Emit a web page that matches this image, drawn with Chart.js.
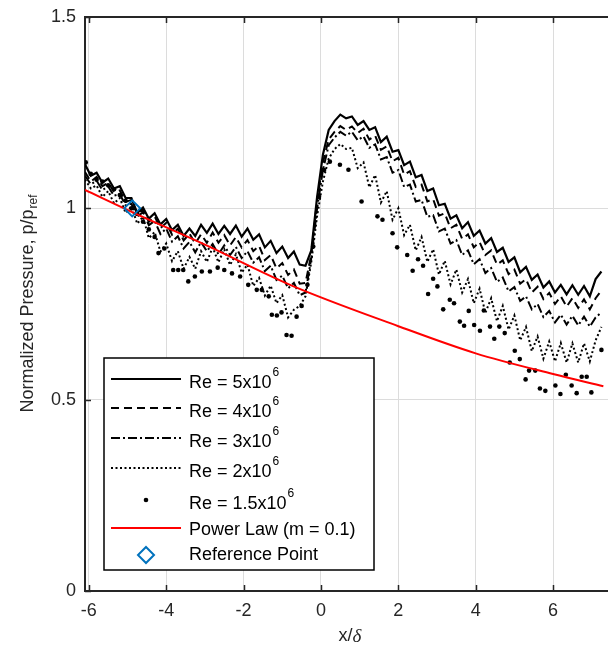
<!DOCTYPE html>
<html>
<head>
<meta charset="utf-8">
<script src="https://cdn.jsdelivr.net/npm/chart.js@4.4.1/dist/chart.umd.min.js"></script>
<style>
  html, body { margin: 0; padding: 0; background: #fff; overflow: hidden; }
  #wrap { width: 608px; height: 647px; position: relative; }
</style>
</head>
<body>
<div id="wrap"><canvas id="pressureChart"></canvas></div>
<script>
// x/delta stations shared by the four line series
const xPos = [
  -6.1, -5.95, -5.8, -5.65, -5.5, -5.35, -5.2, -5.05, -4.9, -4.75,
  -4.6, -4.45, -4.3, -4.15, -4.0, -3.85, -3.7, -3.55, -3.4, -3.25,
  -3.1, -2.95, -2.8, -2.65, -2.5, -2.35, -2.2, -2.05, -1.9, -1.75,
  -1.6, -1.45, -1.3, -1.15, -1.0, -0.85, -0.7, -0.55, -0.4, -0.25,
  -0.1, 0.05, 0.2, 0.35, 0.5, 0.65, 0.8, 0.95, 1.1, 1.25,
  1.4, 1.55, 1.7, 1.85, 2.0, 2.15, 2.3, 2.45, 2.6, 2.75,
  2.9, 3.05, 3.2, 3.35, 3.5, 3.65, 3.8, 3.95, 4.1, 4.25,
  4.4, 4.55, 4.7, 4.85, 5.0, 5.15, 5.3, 5.45, 5.6, 5.75,
  5.9, 6.05, 6.2, 6.35, 6.5, 6.65, 6.8, 6.95, 7.1, 7.25
];

const re5 = [
  1.115, 1.085, 1.093, 1.067, 1.078, 1.052, 1.058, 1.027, 1.027, 0.988,
  1.002, 0.973, 0.987, 0.958, 0.972, 0.943, 0.957, 0.928, 0.947, 0.928,
  0.957, 0.936, 0.960, 0.933, 0.954, 0.933, 0.955, 0.926, 0.947, 0.918,
  0.932, 0.898, 0.915, 0.883, 0.900, 0.870, 0.887, 0.853, 0.850, 0.890,
  1.030, 1.140, 1.205, 1.228, 1.245, 1.235, 1.240, 1.218, 1.228, 1.205,
  1.212, 1.173, 1.187, 1.148, 1.152, 1.113, 1.122, 1.081, 1.087, 1.045,
  1.052, 1.008, 1.012, 0.973, 0.982, 0.948, 0.964, 0.928, 0.942, 0.908,
  0.922, 0.886, 0.897, 0.860, 0.872, 0.833, 0.847, 0.813, 0.827, 0.793,
  0.809, 0.780, 0.800, 0.775, 0.799, 0.774, 0.797, 0.770, 0.815, 0.835
];

const re4 = [
  1.095, 1.070, 1.082, 1.058, 1.067, 1.043, 1.047, 1.017, 1.022, 0.985,
  0.997, 0.965, 0.979, 0.948, 0.962, 0.931, 0.947, 0.916, 0.934, 0.908,
  0.932, 0.910, 0.937, 0.910, 0.930, 0.903, 0.925, 0.898, 0.917, 0.888,
  0.902, 0.865, 0.878, 0.843, 0.857, 0.826, 0.840, 0.803, 0.805, 0.880,
  1.020, 1.120, 1.180, 1.200, 1.215, 1.205, 1.214, 1.197, 1.208, 1.180,
  1.190, 1.153, 1.162, 1.123, 1.132, 1.088, 1.097, 1.056, 1.062, 1.018,
  1.024, 0.981, 0.987, 0.948, 0.957, 0.920, 0.932, 0.898, 0.912, 0.878,
  0.890, 0.853, 0.864, 0.828, 0.840, 0.803, 0.815, 0.780, 0.795, 0.763,
  0.779, 0.750, 0.770, 0.743, 0.765, 0.740, 0.762, 0.736, 0.765, 0.785
];

const re3 = [
  1.085, 1.063, 1.072, 1.048, 1.057, 1.033, 1.037, 1.008, 1.012, 0.978,
  0.990, 0.956, 0.967, 0.933, 0.947, 0.913, 0.927, 0.895, 0.912, 0.885,
  0.912, 0.888, 0.907, 0.880, 0.903, 0.878, 0.899, 0.870, 0.888, 0.858,
  0.872, 0.836, 0.850, 0.813, 0.824, 0.791, 0.805, 0.773, 0.780, 0.870,
  1.000, 1.100, 1.165, 1.185, 1.200, 1.190, 1.200, 1.178, 1.188, 1.158,
  1.167, 1.128, 1.134, 1.093, 1.100, 1.056, 1.062, 1.018, 1.022, 0.978,
  0.982, 0.940, 0.947, 0.908, 0.917, 0.878, 0.890, 0.854, 0.867, 0.831,
  0.844, 0.808, 0.819, 0.783, 0.794, 0.758, 0.770, 0.736, 0.750, 0.716,
  0.732, 0.702, 0.722, 0.696, 0.719, 0.694, 0.717, 0.691, 0.715, 0.728
];

const re2 = [
  1.075, 1.052, 1.060, 1.030, 1.045, 1.013, 1.027, 0.988, 1.005, 0.960,
  0.978, 0.922, 0.938, 0.887, 0.908, 0.862, 0.888, 0.842, 0.873, 0.842,
  0.888, 0.860, 0.898, 0.859, 0.893, 0.852, 0.880, 0.832, 0.853, 0.797,
  0.818, 0.772, 0.798, 0.752, 0.773, 0.715, 0.735, 0.745, 0.770, 0.860,
  0.980, 1.070, 1.130, 1.155, 1.168, 1.155, 1.158, 1.105, 1.120, 1.055,
  1.087, 1.015, 1.045, 0.970, 1.000, 0.930, 0.957, 0.890, 0.925, 0.860,
  0.893, 0.827, 0.863, 0.801, 0.840, 0.780, 0.815, 0.752, 0.790, 0.727,
  0.765, 0.705, 0.745, 0.683, 0.720, 0.655, 0.690, 0.627, 0.665, 0.607,
  0.652, 0.600, 0.648, 0.597, 0.647, 0.597, 0.647, 0.600, 0.655, 0.690
];

// Re = 1.5x10^6 is sampled more sparsely
const re15X = [
  -6.08, -5.95, -5.8, -5.65, -5.5, -5.35, -5.2, -5.05, -4.9, -4.75,
  -4.6, -4.45, -4.3, -4.2, -4.05, -3.82, -3.69, -3.56, -3.43, -3.26,
  -3.08, -2.87, -2.67, -2.5, -2.3, -2.09, -1.88, -1.66, -1.53, -1.35,
  -1.27, -1.14, -1.02, -0.89, -0.76, -0.63, -0.5, -0.35, -0.2, -0.05,
  0.08, 0.23, 0.49, 0.71, 1.05, 1.46, 1.59, 1.85, 1.97, 2.23,
  2.37, 2.51, 2.64, 2.77, 2.90, 3.01, 3.16, 3.33, 3.44, 3.59,
  3.70, 3.82, 3.96, 4.11, 4.21, 4.37, 4.48, 4.61, 4.75, 4.88,
  5.01, 5.14, 5.29, 5.38, 5.54, 5.66, 5.80, 6.06, 6.19, 6.33,
  6.48, 6.61, 6.74, 6.87, 6.99, 7.25
];
const re15Y = [
  1.120, 1.090, 1.075, 1.070, 1.060, 1.050, 1.035, 1.020, 1.000, 0.985,
  0.965, 0.945, 0.925, 0.883, 0.895, 0.839, 0.839, 0.839, 0.809, 0.822,
  0.835, 0.835, 0.845, 0.839, 0.830, 0.822, 0.800, 0.787, 0.787, 0.770,
  0.722, 0.720, 0.728, 0.669, 0.667, 0.717, 0.745, 0.800, 0.900, 1.030,
  1.100, 1.122, 1.114, 1.101, 1.018, 0.979, 0.970, 0.935, 0.898, 0.878,
  0.837, 0.867, 0.850, 0.776, 0.816, 0.796, 0.736, 0.761, 0.752, 0.704,
  0.693, 0.732, 0.695, 0.680, 0.733, 0.691, 0.659, 0.691, 0.674, 0.597,
  0.628, 0.606, 0.553, 0.576, 0.576, 0.529, 0.523, 0.537, 0.515, 0.565,
  0.537, 0.517, 0.560, 0.560, 0.519, 0.630
];

const powerX = [-6.1, -4.88, -3.0, -0.8, 2.0, 4.0, 6.0, 7.3];
const powerY = [1.048, 0.99, 0.905, 0.80, 0.692, 0.621, 0.567, 0.535];

const refX = [-4.88];
const refY = [1.0];

const xTicks = [-6, -4, -2, 0, 2, 4, 6];
const yTicks = [0, 0.5, 1, 1.5];

const FONT = '"Liberation Sans", Arial, Helvetica, sans-serif';
const INK = '#262626';

function pairs(xs, ys) {
  return xs.map((x, i) => ({ x: x, y: ys[i] }));
}

// frame, inward ticks, axis titles and the boxed legend
const frameAndLegend = {
  id: 'frameAndLegend',
  afterDraw(chart) {
    const ctx = chart.ctx;
    const a = chart.chartArea;
    const sx = chart.scales.x, sy = chart.scales.y;
    ctx.save();

    ctx.strokeStyle = INK;
    ctx.lineWidth = 2;
    ctx.beginPath();
    ctx.moveTo(a.left, a.top);
    ctx.lineTo(a.right, a.top);
    ctx.stroke();

    ctx.lineWidth = 1.5;
    ctx.beginPath();
    xTicks.forEach(v => {
      const px = Math.round(sx.getPixelForValue(v)) + 0.5;
      ctx.moveTo(px, a.bottom); ctx.lineTo(px, a.bottom - 6);
      ctx.moveTo(px, a.top); ctx.lineTo(px, a.top + 6);
    });
    yTicks.forEach(v => {
      const py = Math.round(sy.getPixelForValue(v)) + 0.5;
      ctx.moveTo(a.left, py); ctx.lineTo(a.left + 6, py);
    });
    ctx.stroke();

    // y title with subscript
    ctx.fillStyle = INK;
    ctx.textBaseline = 'middle';
    const main = 'Normalized Pressure, p/p';
    ctx.font = '18px ' + FONT;
    const wMain = ctx.measureText(main).width;
    ctx.font = '12px ' + FONT;
    const wSub = ctx.measureText('ref').width;
    ctx.save();
    ctx.translate(28, (a.top + a.bottom) / 2);
    ctx.rotate(-Math.PI / 2);
    const x0 = -(wMain + wSub) / 2;
    ctx.textAlign = 'left';
    ctx.font = '18px ' + FONT;
    ctx.fillText(main, x0, 0);
    ctx.font = '12px ' + FONT;
    ctx.fillText('ref', x0 + wMain + 1, 6);
    ctx.restore();

    // x title
    ctx.font = '18px ' + FONT;
    const wx = ctx.measureText('x/').width;
    ctx.font = 'italic 19px "Liberation Serif", "Times New Roman", serif';
    const wd = ctx.measureText('\u03b4').width;
    let tx = 350 - (wx + wd) / 2;
    ctx.textAlign = 'left';
    ctx.font = '18px ' + FONT;
    ctx.fillText('x/', tx, 636);
    ctx.font = 'italic 19px "Liberation Serif", "Times New Roman", serif';
    ctx.fillText('\u03b4', tx + wx, 637);

    // legend
    const box = { l: 104, t: 358, r: 374, b: 570 };
    ctx.fillStyle = '#fff';
    ctx.fillRect(box.l, box.t, box.r - box.l, box.b - box.t);
    ctx.strokeStyle = '#000';
    ctx.lineWidth = 1.5;
    ctx.strokeRect(box.l, box.t, box.r - box.l, box.b - box.t);

    const rowY = [383, 412, 442, 472, 504, 530, 555];
    const s0 = 111, s1 = 181, sc = 146, tX = 189;
    chart.data.datasets.forEach(ds => {
      const i = ds.legendRow;
      const y = rowY[i];
      const my = ds.sup ? y - 4 : (ds.kind === 'ref' ? y : y - 2);
      ctx.save();
      if (ds.kind === 'line') {
        ctx.strokeStyle = ds.borderColor;
        ctx.lineWidth = ds.borderWidth;
        ctx.setLineDash(ds.borderDash || []);
        ctx.beginPath();
        ctx.moveTo(s0, my); ctx.lineTo(s1, my);
        ctx.stroke();
      } else if (ds.kind === 'dots') {
        ctx.fillStyle = '#000';
        ctx.beginPath();
        ctx.arc(sc, my, ds.pointRadius, 0, Math.PI * 2);
        ctx.fill();
      } else {
        ctx.strokeStyle = ds.borderColor;
        ctx.lineWidth = ds.pointBorderWidth;
        const r = ds.pointRadius;
        ctx.beginPath();
        ctx.moveTo(sc, my - r); ctx.lineTo(sc + r, my);
        ctx.lineTo(sc, my + r); ctx.lineTo(sc - r, my);
        ctx.closePath();
        ctx.stroke();
      }
      ctx.restore();
      ctx.fillStyle = '#000';
      ctx.textAlign = 'left';
      ctx.textBaseline = 'middle';
      ctx.font = '18px ' + FONT;
      ctx.fillText(ds.label, tX, y);
      if (ds.sup) {
        const w = ctx.measureText(ds.label).width;
        ctx.font = '12px ' + FONT;
        ctx.fillText(ds.sup, tX + w + 1, y - 10);
      }
    });
    ctx.restore();
  }
};

const ctx = document.getElementById('pressureChart').getContext('2d');
new Chart(ctx, {
  type: 'line',
  data: {
    datasets: [
      {
        label: 'Reference Point', kind: 'ref', legendRow: 6,
        data: pairs(refX, refY), showLine: false,
        borderColor: '#0072BD', backgroundColor: 'rgba(0,0,0,0)',
        pointStyle: 'rectRot', pointRadius: 8, pointBorderWidth: 2, order: 0
      },
      {
        label: 'Power Law (m = 0.1)', kind: 'line', legendRow: 5,
        data: pairs(powerX, powerY), borderColor: '#ff0000', borderWidth: 2,
        pointRadius: 0, cubicInterpolationMode: 'monotone', order: 1
      },
      {
        label: 'Re = 5x10', sup: '6', kind: 'line', legendRow: 0,
        data: pairs(xPos, re5), borderColor: '#000', borderWidth: 2.2,
        pointRadius: 0, order: 2
      },
      {
        label: 'Re = 4x10', sup: '6', kind: 'line', legendRow: 1,
        data: pairs(xPos, re4), borderColor: '#000', borderWidth: 2,
        borderDash: [8, 5], pointRadius: 0, order: 3
      },
      {
        label: 'Re = 3x10', sup: '6', kind: 'line', legendRow: 2,
        data: pairs(xPos, re3), borderColor: '#000', borderWidth: 2,
        borderDash: [9, 3, 2, 3], pointRadius: 0, order: 4
      },
      {
        label: 'Re = 2x10', sup: '6', kind: 'line', legendRow: 3,
        data: pairs(xPos, re2), borderColor: '#000', borderWidth: 2,
        borderDash: [2, 2.5], pointRadius: 0, order: 5
      },
      {
        label: 'Re = 1.5x10', sup: '6', kind: 'dots', legendRow: 4,
        data: pairs(re15X, re15Y), showLine: false,
        borderColor: '#000', backgroundColor: '#000',
        pointRadius: 2.3, pointBorderWidth: 0, order: 6
      }
    ]
  },
  options: {
    responsive: true,
    maintainAspectRatio: false,
    animation: false,
    layout: { autoPadding: false, padding: { top: 17, right: 0, left: 0, bottom: 0 } },
    plugins: {
      legend: { display: false },
      tooltip: { enabled: false }
    },
    scales: {
      x: {
        type: 'linear',
        min: -6.1,
        max: 7.42,
        afterBuildTicks: s => { s.ticks = xTicks.map(v => ({ value: v })); },
        afterFit: s => { s.height = 56; s.paddingLeft = 0; s.paddingRight = 0; },
        grid: { color: '#dcdcdc', lineWidth: 1, drawTicks: false },
        border: { color: INK, width: 2 },
        ticks: {
          color: INK, font: { family: FONT, size: 18 }, padding: 9, maxRotation: 0,
          callback: v => String(v)
        }
      },
      y: {
        min: 0,
        max: 1.5,
        afterBuildTicks: s => { s.ticks = yTicks.map(v => ({ value: v })); },
        afterFit: s => { s.width = 85; s.paddingTop = 0; s.paddingBottom = 0; },
        grid: { color: '#dcdcdc', lineWidth: 1, drawTicks: false },
        border: { color: INK, width: 2 },
        ticks: {
          color: INK, font: { family: FONT, size: 18 }, padding: 9,
          callback: v => String(v)
        }
      }
    }
  },
  plugins: [frameAndLegend]
});
</script>
</body>
</html>
